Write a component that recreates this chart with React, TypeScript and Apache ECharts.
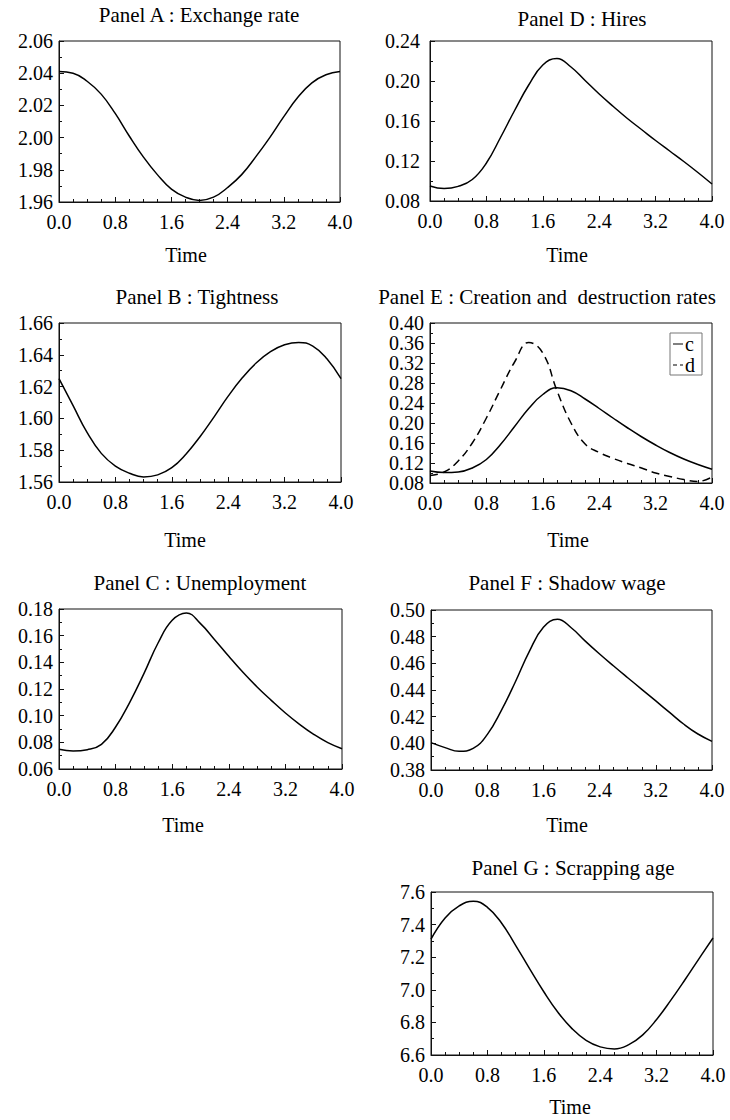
import React, { useEffect, useRef } from "react";
import * as echarts from "echarts";

const TIME = [0.0, 0.2, 0.4, 0.6, 0.8, 1.0, 1.2, 1.4, 1.6, 1.8, 2.0, 2.2, 2.4, 2.6, 2.8, 3.0, 3.2, 3.4, 3.6, 3.8, 4.0];

const exchangeRate = [2.041, 2.040, 2.035, 2.027, 2.015, 2.001, 1.988, 1.977, 1.968, 1.963, 1.961, 1.963, 1.969, 1.977, 1.988, 2.000, 2.013, 2.025, 2.034, 2.039, 2.041];
const tightness = [1.625, 1.608, 1.591, 1.578, 1.570, 1.5655, 1.5632, 1.5645, 1.569, 1.5775, 1.5885, 1.601, 1.614, 1.6255, 1.635, 1.642, 1.6463, 1.6478, 1.6455, 1.6375, 1.625];
const unemployment = [0.0748, 0.0735, 0.0745, 0.0785, 0.0915, 0.110, 0.1315, 0.1545, 0.1715, 0.177, 0.169, 0.157, 0.1445, 0.1325, 0.1215, 0.1115, 0.102, 0.0935, 0.086, 0.0798, 0.0752];
const hires = [0.095, 0.0924, 0.0946, 0.1015, 0.118, 0.1435, 0.1705, 0.196, 0.216, 0.2225, 0.214, 0.2005, 0.187, 0.1745, 0.1625, 0.1515, 0.1405, 0.130, 0.1195, 0.1085, 0.097];
const creation = [0.104, 0.101, 0.102, 0.110, 0.127, 0.157, 0.193, 0.229, 0.257, 0.2705, 0.2645, 0.248, 0.229, 0.2095, 0.1905, 0.1725, 0.156, 0.141, 0.128, 0.117, 0.1075];
const destruction = [0.095, 0.102, 0.124, 0.160, 0.210, 0.267, 0.322, 0.361, 0.340, 0.265, 0.200, 0.158, 0.141, 0.129, 0.119, 0.110, 0.100, 0.093, 0.087, 0.083, 0.092];
const shadowWage = [0.4005, 0.3968, 0.394, 0.3962, 0.4065, 0.4245, 0.446, 0.469, 0.487, 0.493, 0.4865, 0.4765, 0.467, 0.458, 0.4492, 0.4405, 0.4318, 0.423, 0.4143, 0.407, 0.4015];
const scrappingAge = [7.311, 7.441, 7.515, 7.544, 7.506, 7.41, 7.273, 7.128, 6.988, 6.862, 6.762, 6.690, 6.650, 6.637, 6.662, 6.722, 6.818, 6.935, 7.060, 7.190, 7.318];

const X_TICKS = { min: 0, max: 4, interval: 0.8 };

const PANEL_TITLES = [
  "Panel A : Exchange rate",
  "Panel D : Hires",
  "Panel B : Tightness",
  "Panel E : Creation and  destruction rates",
  "Panel C : Unemployment",
  "Panel F : Shadow wage",
  "Panel G : Scrapping age",
];
const X_NAME = "Time";
const LEGEND_NAMES = ["c", "d"];

const Y_SCALES = [
  { min: 1.96, max: 2.06, interval: 0.02, digits: 2 },
  { min: 0.08, max: 0.24, interval: 0.04, digits: 2 },
  { min: 1.56, max: 1.66, interval: 0.02, digits: 2 },
  { min: 0.08, max: 0.40, interval: 0.04, digits: 2 },
  { min: 0.06, max: 0.18, interval: 0.02, digits: 2 },
  { min: 0.38, max: 0.50, interval: 0.02, digits: 2 },
  { min: 6.6, max: 7.6, interval: 0.2, digits: 1 },
];

// layout (pixels)
const GRIDS = [
  { left: 59, top: 41, width: 281, height: 161, titleX: 199, titleY: 15, nameX: 186, nameY: 255, labelMargin: 6 },
  { left: 430, top: 41, width: 282, height: 160, titleX: 582, titleY: 19, nameX: 567, nameY: 255, labelMargin: 10 },
  { left: 59, top: 323, width: 282, height: 159, titleX: 197, titleY: 297, nameX: 185, nameY: 540, labelMargin: 6 },
  { left: 430, top: 323, width: 282, height: 160, titleX: 547, titleY: 297, nameX: 568, nameY: 540, labelMargin: 6 },
  { left: 59, top: 609, width: 283, height: 160, titleX: 200, titleY: 583, nameX: 183, nameY: 825, labelMargin: 6 },
  { left: 431, top: 610, width: 281, height: 160, titleX: 567, titleY: 583, nameX: 567, nameY: 825, labelMargin: 6 },
  { left: 431, top: 892, width: 282, height: 163, titleX: 573, titleY: 868, nameX: 570, nameY: 1107, labelMargin: 6 },
];

const FONT = "'Liberation Serif', 'Times New Roman', Times, serif";

function pairs(vals: number[]) {
  return TIME.map((t, i) => [t, vals[i]]);
}

export default function App() {
  const ref = useRef<HTMLDivElement>(null);

  useEffect(() => {
    document.body.style.margin = "0";
    if (!ref.current) return;
    const chart = echarts.init(ref.current, undefined, { renderer: "svg" });

    const grid = GRIDS.map((g) => ({
      left: g.left,
      top: g.top,
      width: g.width,
      height: g.height,
      show: true,
      borderColor: "#111",
      borderWidth: 1,
      backgroundColor: "transparent",
      containLabel: false,
    }));

    const xAxis = GRIDS.map((g, i) => ({
      type: "value",
      gridIndex: i,
      min: X_TICKS.min,
      max: X_TICKS.max,
      interval: X_TICKS.interval,
      axisLine: { show: true, lineStyle: { color: "#111", width: 1 } },
      axisTick: { show: true, inside: true, length: 5, lineStyle: { color: "#111" } },
      minorTick: { show: true, splitNumber: 4, length: 3, lineStyle: { color: "#111" } },
      splitLine: { show: false },
      axisLabel: {
        color: "#000",
        fontFamily: FONT,
        fontSize: 20,
        margin: 10,
        formatter: (v: number) => v.toFixed(1),
      },
    }));

    const yAxis = Y_SCALES.map((s, i) => ({
      type: "value",
      gridIndex: i,
      min: s.min,
      max: s.max,
      interval: s.interval,
      axisLine: { show: true, lineStyle: { color: "#111", width: 1 } },
      axisTick: { show: true, inside: true, length: 5, lineStyle: { color: "#111" } },
      minorTick: { show: true, splitNumber: 2, length: 3, lineStyle: { color: "#111" } },
      splitLine: { show: false },
      axisLabel: {
        color: "#000",
        fontFamily: FONT,
        fontSize: 20,
        margin: GRIDS[i].labelMargin,
        formatter: (v: number) => v.toFixed(s.digits),
      },
    }));

    const line = (name: string, vals: number[], idx: number, dashed = false) => ({
      name,
      type: "line",
      xAxisIndex: idx,
      yAxisIndex: idx,
      data: pairs(vals),
      smooth: 0.45,
      symbol: "none",
      showSymbol: false,
      silent: true,
      lineStyle: { color: "#000", width: 1.5, type: dashed ? [8, 5] : "solid" },
      itemStyle: { color: "#000" },
    });

    const series = [
      line("Exchange rate", exchangeRate, 0),
      line("Hires", hires, 1),
      line("Tightness", tightness, 2),
      line(LEGEND_NAMES[0], creation, 3),
      line(LEGEND_NAMES[1], destruction, 3, true),
      line("Unemployment", unemployment, 4),
      line("Shadow wage", shadowWage, 5),
      line("Scrapping age", scrappingAge, 6),
    ];

    const graphic: any[] = [];
    GRIDS.forEach((g, i) => {
      graphic.push({
        type: "text",
        x: g.titleX,
        y: g.titleY,
        silent: true,
        style: {
          text: PANEL_TITLES[i],
          fill: "#000",
          font: `21px ${FONT}`,
          align: "center",
          verticalAlign: "middle",
          textAlign: "center",
          textVerticalAlign: "middle",
        },
      });
      graphic.push({
        type: "text",
        x: g.nameX,
        y: g.nameY,
        silent: true,
        style: {
          text: X_NAME,
          fill: "#000",
          font: `20px ${FONT}`,
          align: "center",
          verticalAlign: "middle",
          textAlign: "center",
          textVerticalAlign: "middle",
        },
      });
    });

    chart.setOption({
      animation: false,
      backgroundColor: "#fff",
      grid,
      xAxis,
      yAxis,
      series,
      graphic,
      legend: {
        data: [
          { name: LEGEND_NAMES[0], icon: "path://M0,0H10V1H0Z" },
          { name: LEGEND_NAMES[1], icon: "path://M0,0H4V1H0Z M7,0H10V1H7Z" },
        ],
        orient: "vertical",
        left: 670,
        top: 333,
        itemWidth: 10,
        itemHeight: 1.5,
        itemGap: 1,
        padding: [1, 7, 0, 3],
        borderColor: "#777",
        borderWidth: 1,
        backgroundColor: "#fff",
        selectedMode: false,
        textStyle: { color: "#000", fontFamily: FONT, fontSize: 20, padding: [0, 0, 0, -3], lineHeight: 18 },
      },
    });

    return () => {
      chart.dispose();
    };
  }, []);

  return <div ref={ref} style={{ width: 730, height: 1120 }} />;
}
